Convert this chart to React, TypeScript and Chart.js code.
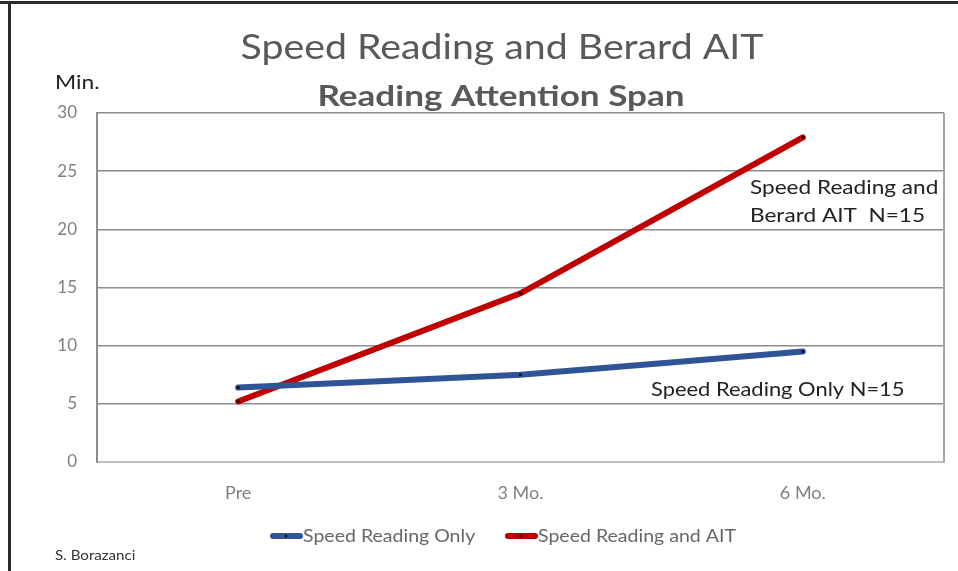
import React, { useEffect, useRef } from "react";
import { Chart, registerables } from "chart.js";

Chart.register(...registerables);

const categories = ["Pre", "3 Mo.", "6 Mo."];
const speedReadingOnly = [6.4, 7.5, 9.5];
const speedReadingAIT = [5.2, 14.5, 27.9];
const seriesLabels = ["Speed Reading Only", "Speed Reading and AIT"];
const yTicks = [0, 5, 10, 15, 20, 25, 30];
const titleText = "Speed Reading and Berard AIT";
const subtitleText = "Reading Attention Span";
const yUnit = "Min.";
const author = "S. Borazanci";
const noteAIT = ["Speed Reading and", "Berard AIT  N=15"];
const noteOnly = "Speed Reading Only N=15";

const BLUE = "#2F5597";
const RED = "#C00000";
const FONT = "Lato, 'Open Sans', sans-serif";

function stretchText(
  ctx: CanvasRenderingContext2D,
  text: string,
  x: number,
  y: number,
  sx: number,
  align: "left" | "center"
) {
  ctx.save();
  ctx.translate(x, y);
  ctx.scale(sx, 1);
  ctx.textAlign = align;
  ctx.fillText(text, 0, 0);
  ctx.restore();
}

const decorPlugin = {
  id: "decor",
  beforeDraw(chart: any) {
    const ctx = chart.ctx;
    ctx.save();
    ctx.fillStyle = "#fff";
    ctx.fillRect(0, 0, chart.width, chart.height);
    ctx.strokeStyle = "#2b2b2b";
    ctx.lineWidth = 3;
    ctx.beginPath();
    ctx.moveTo(0, 2.5);
    ctx.lineTo(chart.width, 2.5);
    ctx.moveTo(9.5, 2.5);
    ctx.lineTo(9.5, chart.height);
    ctx.stroke();
    ctx.restore();
  },
  afterDatasetsDraw(chart: any) {
    const ctx = chart.ctx;
    const a = chart.chartArea;
    ctx.save();
    ctx.strokeStyle = "#a6a6a6";
    ctx.lineWidth = 2;
    ctx.beginPath();
    ctx.moveTo(a.right, a.top);
    ctx.lineTo(a.right, a.bottom);
    ctx.stroke();

    ctx.textBaseline = "alphabetic";
    ctx.fillStyle = "#595959";
    ctx.font = `34px ${FONT}`;
    stretchText(ctx, titleText, 502, 59, 1.155, "center");
    ctx.font = `bold 29px ${FONT}`;
    stretchText(ctx, subtitleText, 501, 106, 1.21, "center");

    ctx.fillStyle = "#222";
    ctx.font = `19px ${FONT}`;
    stretchText(ctx, yUnit, 55, 89, 1.2, "left");

    ctx.fillStyle = "#333";
    ctx.font = `14px ${FONT}`;
    stretchText(ctx, author, 55, 560, 1.08, "left");

    ctx.fillStyle = "#222";
    ctx.font = `20px ${FONT}`;
    stretchText(ctx, noteAIT[0], 750, 194, 1.13, "left");
    stretchText(ctx, noteAIT[1], 750, 222, 1.13, "left");
    stretchText(ctx, noteOnly, 651, 396, 1.095, "left");

    const items = [
      { x: 270, ds: chart.data.datasets[0] },
      { x: 505, ds: chart.data.datasets[1] },
    ];
    ctx.font = `18px ${FONT}`;
    ctx.textBaseline = "middle";
    items.forEach((it) => {
      const y = 536;
      ctx.strokeStyle = it.ds.borderColor;
      ctx.lineWidth = 6;
      ctx.lineCap = "round";
      ctx.beginPath();
      ctx.moveTo(it.x + 3, y);
      ctx.lineTo(it.x + 30, y);
      ctx.stroke();
      ctx.fillStyle = "#111";
      ctx.beginPath();
      ctx.arc(it.x + 16, y, 1.5, 0, Math.PI * 2);
      ctx.fill();
      ctx.fillStyle = "#666";
      stretchText(ctx, it.ds.label, it.x + 33, y, 1.085, "left");
    });
    ctx.restore();
  },
};

export default function App() {
  const ref = useRef<HTMLCanvasElement>(null);
  useEffect(() => {
    if (!ref.current) return;
    const chart = new Chart(ref.current, {
      type: "line",
      data: {
        labels: categories,
        datasets: [
          {
            label: seriesLabels[0],
            data: speedReadingOnly,
            borderColor: BLUE,
            backgroundColor: BLUE,
            borderWidth: 6,
            borderCapStyle: "round",
            tension: 0.1,
            pointRadius: 1.6,
            pointBackgroundColor: "#111",
            pointBorderColor: "#111",
            pointBorderWidth: 0,
          },
          {
            label: seriesLabels[1],
            data: speedReadingAIT,
            borderColor: RED,
            backgroundColor: RED,
            borderWidth: 6,
            borderCapStyle: "round",
            tension: 0,
            pointRadius: 1.6,
            pointBackgroundColor: "#111",
            pointBorderColor: "#111",
            pointBorderWidth: 0,
          },
        ],
      },
      options: {
        animation: false,
        responsive: false,
        layout: { padding: { top: 113, right: 14, bottom: 69, left: 0 } },
        plugins: {
          legend: { display: false },
          title: { display: false },
          tooltip: { enabled: false },
        },
        scales: {
          x: {
            offset: true,
            grid: { display: false, drawTicks: false },
            border: { color: "#bfbfbf", width: 2 },
            ticks: {
              padding: 20,
              color: "#7f7f7f",
              font: { family: FONT, size: 18 },
            },
            afterFit(scale: any) {
              scale.height = 40;
            },
          },
          y: {
            min: 0,
            max: 30,
            afterBuildTicks(scale: any) {
              scale.ticks = yTicks.map((v) => ({ value: v }));
            },
            grid: { color: "#8c8c8c", lineWidth: 1.5, drawTicks: false },
            border: { color: "#8c8c8c", width: 2 },
            ticks: {
              padding: 20,
              color: "#7f7f7f",
              font: { family: FONT, size: 17 },
            },
            afterFit(scale: any) {
              scale.width = 97;
            },
          },
        },
      },
      plugins: [decorPlugin],
    });
    return () => chart.destroy();
  }, []);
  return (
    <canvas
      ref={ref}
      width={958}
      height={571}
      style={{ position: "fixed", left: 0, top: 0, width: 958, height: 571 }}
    />
  );
}
